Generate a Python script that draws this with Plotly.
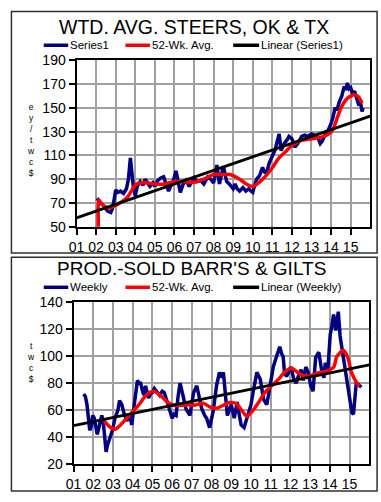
import plotly.graph_objects as go

W, H = 381, 502
FONT = "Liberation Sans, Arial, sans-serif"

# ---------------- data ----------------
tick_vals = list(range(2001, 2016))
tick_text = ["01", "02", "03", "04", "05", "06", "07", "08", "09", "10", "11", "12", "13", "14", "15"]

steers_x = [2002.05, 2002.15, 2002.3, 2002.45, 2002.6, 2002.75, 2002.85, 2003.0, 2003.1, 2003.25,
            2003.4, 2003.55, 2003.65, 2003.75, 2003.82, 2003.9, 2004.0, 2004.1, 2004.25, 2004.4,
            2004.5, 2004.6, 2004.75, 2004.9, 2005.0, 2005.15, 2005.3, 2005.45, 2005.55, 2005.7,
            2005.8, 2005.95, 2006.08, 2006.15, 2006.3, 2006.45, 2006.6, 2006.75, 2006.9, 2007.0,
            2007.15, 2007.33, 2007.5, 2007.7, 2007.85, 2008.0, 2008.1, 2008.17, 2008.3, 2008.42,
            2008.5, 2008.6, 2008.67, 2008.8, 2009.0, 2009.1, 2009.2, 2009.33, 2009.5, 2009.65,
            2009.8, 2009.92, 2010.0, 2010.1, 2010.2, 2010.35, 2010.5, 2010.6, 2010.7, 2010.85,
            2011.0, 2011.15, 2011.25, 2011.35, 2011.45, 2011.6, 2011.75, 2011.85, 2012.0, 2012.15,
            2012.3, 2012.5, 2012.65, 2012.8, 2013.0, 2013.15, 2013.3, 2013.45, 2013.55, 2013.7,
            2013.85, 2014.0, 2014.1, 2014.2, 2014.3, 2014.42, 2014.55, 2014.67, 2014.75, 2014.83,
            2014.92, 2015.0, 2015.1, 2015.2, 2015.33, 2015.42, 2015.5, 2015.58, 2015.63]
steers_wk = [74, 72, 68, 65, 63, 62, 66, 81, 79, 80,
             78, 82, 90, 108, 95, 84, 76, 84, 88, 85,
             90, 88, 84, 87, 84, 89, 91, 92, 87, 80,
             84, 89, 97, 90, 79, 86, 89, 84, 88, 91,
             88, 89, 86, 92, 90, 87, 95, 102, 86, 95,
             101, 93, 88, 86, 82, 86, 82, 80, 83, 80,
             82, 80, 79, 85, 90, 93, 100, 96, 95, 104,
             109, 115, 122, 128, 114, 120, 123, 126, 124, 117,
             120, 126, 127, 126, 128, 127, 126, 120, 122, 128,
             131, 137, 142, 150, 148, 155, 160, 168, 165, 171,
             166, 167, 162, 164, 158, 152, 155, 147, 150]

steers_avg_x = [2002.13, 2002.14, 2002.3, 2002.6, 2003.0, 2003.3, 2003.6, 2003.8, 2004.0, 2004.3,
                2004.6, 2005.0, 2005.5, 2006.0, 2006.5, 2007.0, 2007.5, 2008.0, 2008.5, 2008.83,
                2009.33, 2009.67, 2010.0, 2010.33, 2010.67, 2011.0, 2011.33, 2011.67, 2012.0, 2012.5,
                2013.0, 2013.5, 2014.0, 2014.17, 2014.5, 2014.83, 2015.17, 2015.42, 2015.58]
steers_avg = [40, 72.5, 69, 66, 68, 71, 75, 80, 85, 87,
              87, 86, 86, 88, 88, 87.4, 90, 94, 94, 94,
              90, 86, 84, 87.4, 92.8, 99.6, 107.7, 113, 118.5, 122.6,
              124, 125.4, 129.4, 134.8, 149.8, 158, 161, 159, 154]

trend_x = [2001, 2016]
steers_trend = [57.5, 143]

barrows_x = [2001.51, 2001.6, 2001.68, 2001.75, 2001.82, 2001.9, 2001.97, 2002.05, 2002.1, 2002.2,
             2002.3, 2002.43, 2002.5, 2002.58, 2002.65, 2002.72, 2002.8, 2002.9, 2002.97, 2003.1,
             2003.25, 2003.33, 2003.45, 2003.55, 2003.7, 2003.85, 2003.95, 2004.07, 2004.17, 2004.24,
             2004.32, 2004.4, 2004.5, 2004.57, 2004.65, 2004.8, 2004.9, 2005.0, 2005.1, 2005.25,
             2005.36, 2005.5, 2005.6, 2005.75, 2005.85, 2006.0, 2006.1, 2006.2, 2006.3, 2006.4,
             2006.55, 2006.7, 2006.9, 2007.09, 2007.25, 2007.4, 2007.5, 2007.65, 2007.75, 2007.9,
             2008.08, 2008.18, 2008.25, 2008.4, 2008.5, 2008.6, 2008.68, 2008.8, 2008.9, 2009.0,
             2009.15, 2009.3, 2009.4, 2009.5, 2009.65, 2009.8, 2009.9, 2010.0, 2010.14, 2010.3,
             2010.4, 2010.47, 2010.64, 2010.8, 2010.97, 2011.13, 2011.3, 2011.46, 2011.55, 2011.63,
             2011.7, 2011.8, 2011.9, 2012.04, 2012.15, 2012.29, 2012.4, 2012.54, 2012.65, 2012.78,
             2012.9, 2013.03, 2013.15, 2013.28, 2013.44, 2013.52, 2013.6, 2013.7, 2013.77, 2013.9,
             2014.02, 2014.1, 2014.19, 2014.3, 2014.43, 2014.52, 2014.6, 2014.68, 2014.76, 2014.85,
             2014.95, 2015.05, 2015.12, 2015.2, 2015.25, 2015.34, 2015.45, 2015.5, 2015.6]
barrows_wk = [72, 70, 64, 55, 45, 48, 56, 54, 50, 42,
              48, 56, 52, 40, 29, 34, 37, 42, 45, 54,
              60, 67, 64, 58, 52, 56, 49, 63, 72, 82,
              80, 80, 74, 71, 78, 69, 72, 73, 76, 73,
              71, 74, 73, 66, 61, 54, 57, 56, 70, 80,
              71, 61, 56, 73, 78, 66, 61, 56, 54, 47,
              59, 70, 78, 88, 84, 88, 73, 56, 60, 64,
              54, 66, 57, 49, 47, 54, 58, 64, 76, 88,
              85, 83, 68, 64, 78, 92, 100, 107, 102, 100,
              88, 85, 88, 92, 84, 80, 85, 90, 82, 92,
              88, 78, 74, 99, 103, 96, 88, 84, 95, 90,
              116, 122, 131, 119, 133, 115, 107, 98, 92, 82,
              71, 62, 58, 57, 68, 80, 79, 78, 77]

barrows_avg_x = [2002.56, 2002.8, 2003.1, 2003.4, 2003.7, 2004.0, 2004.3, 2004.6, 2004.85, 2005.1,
                 2005.4, 2005.75, 2006.1, 2006.5, 2006.8, 2007.09, 2007.6, 2007.9, 2008.25, 2008.6,
                 2008.9, 2009.24, 2009.57, 2009.8, 2010.06, 2010.4, 2010.7, 2011.05, 2011.4, 2011.7,
                 2012.04, 2012.5, 2012.9, 2013.4, 2013.85, 2014.2, 2014.35, 2014.67, 2014.9, 2015.1,
                 2015.4, 2015.5]
barrows_avg = [52, 48, 45.7, 49.3, 54, 59, 63.7, 69.6, 73, 73.7,
               71, 66, 63.6, 63.6, 64, 63.6, 65, 62.4, 61.3, 63.6,
               65.6, 65, 59, 55.3, 59, 66, 73, 78, 83, 88,
               91.2, 86.5, 85, 87.6, 89, 92, 99.6, 104.5, 99.6, 88,
               79.5, 78]

barrows_trend = [48.5, 93.5]

# ---------------- figure ----------------
BLUE = "#000080"
RED = "#ff0000"
BLACK = "#000000"

def px_x(p):
    return p / W

def px_y(p):
    return 1 - p / H

fig = go.Figure()

fig.add_trace(go.Scatter(x=steers_x, y=steers_wk, mode="lines", name="Series1",
                         line=dict(color=BLUE, width=3.5), xaxis="x", yaxis="y"))
fig.add_trace(go.Scatter(x=steers_avg_x, y=steers_avg, mode="lines", name="52-Wk. Avg.",
                         line=dict(color=RED, width=3.5, shape="spline", smoothing=0.6), xaxis="x", yaxis="y"))
fig.add_trace(go.Scatter(x=trend_x, y=steers_trend, mode="lines", name="Linear (Series1)",
                         line=dict(color=BLACK, width=2.8), xaxis="x", yaxis="y"))

fig.add_trace(go.Scatter(x=barrows_x, y=barrows_wk, mode="lines", name="Weekly",
                         line=dict(color=BLUE, width=3.5), xaxis="x2", yaxis="y2"))
fig.add_trace(go.Scatter(x=barrows_avg_x, y=barrows_avg, mode="lines", name="52-Wk. Avg.",
                         line=dict(color=RED, width=3.5, shape="spline", smoothing=0.6), xaxis="x2", yaxis="y2"))
fig.add_trace(go.Scatter(x=trend_x, y=barrows_trend, mode="lines", name="Linear (Weekly)",
                         line=dict(color=BLACK, width=2.8), xaxis="x2", yaxis="y2"))

axis_common = dict(showline=True, linecolor=BLACK, linewidth=2, mirror=True,
                   showgrid=True, gridcolor="#a0a0a0", gridwidth=1.5,
                   ticks="outside", ticklen=6, tickwidth=1.5, tickcolor=BLACK,
                   zeroline=False, fixedrange=True,
                   tickfont=dict(family=FONT, size=14, color=BLACK))

fig.update_layout(
    width=W, height=H, margin=dict(l=0, r=0, t=0, b=0),
    paper_bgcolor="white", plot_bgcolor="white", showlegend=False,
    xaxis=dict(axis_common, domain=[px_x(70), px_x(370)], range=[2001, 2016],
               tickvals=tick_vals, ticktext=tick_text, anchor="y"),
    yaxis=dict(axis_common, domain=[px_y(226), px_y(54)], range=[50, 190],
               tickvals=[50, 70, 90, 110, 130, 150, 170, 190], anchor="x"),
    xaxis2=dict(axis_common, domain=[px_x(67), px_x(369)], range=[2001, 2016],
                tickvals=tick_vals, ticktext=tick_text, anchor="y2"),
    yaxis2=dict(axis_common, domain=[px_y(471), px_y(304)], range=[20, 140],
                tickvals=[20, 40, 60, 80, 100, 120, 140], anchor="x2"),
)

shapes = []
annotations = []
# panel frames
for (x0, y0, x1, y1) in [(3.5, 3.5, 377, 253), (3.5, 257.5, 377, 499)]:
    shapes.append(dict(type="rect", xref="paper", yref="paper",
                       x0=px_x(x0), x1=px_x(x1), y0=px_y(y1), y1=px_y(y0),
                       line=dict(color="#303030", width=1.5), layer="below"))

# titles
annotations.append(dict(text="WTD. AVG. STEERS, OK & TX", xref="paper", yref="paper",
                        x=px_x(190), y=px_y(20), showarrow=False, xanchor="center", yanchor="middle",
                        font=dict(family=FONT, size=19.5, color=BLACK)))
annotations.append(dict(text="PROD.-SOLD BARR'S & GILTS", xref="paper", yref="paper",
                        x=px_x(187), y=px_y(269.5), showarrow=False, xanchor="center", yanchor="middle",
                        font=dict(family=FONT, size=19, color=BLACK)))

# legends (manual)
def legend(y, labels):
    xs = [(36.5, 61.5), (120, 145), (230, 256.5)]
    cols = [BLUE, RED, BLACK]
    for (a, b), c, lab in zip(xs, cols, labels):
        shapes.append(dict(type="line", xref="paper", yref="paper",
                           x0=px_x(a), x1=px_x(b), y0=px_y(y), y1=px_y(y),
                           line=dict(color=c, width=3.5)))
        annotations.append(dict(text=lab, xref="paper", yref="paper", x=px_x(b), y=px_y(y),
                                showarrow=False, xanchor="left", yanchor="middle",
                                font=dict(family=FONT, size=11.5, color=BLACK)))

legend(38.5, ["Series1", "52-Wk. Avg.", "Linear (Series1)"])
legend(288.5, ["Weekly", "52-Wk. Avg.", "Linear (Weekly)"])

# stacked y-axis titles (one text each)
annotations.append(dict(text="e<br>y<br>/<br>t<br>w<br>c<br>$", xref="paper", yref="paper",
                        x=px_x(24), y=px_y(136), showarrow=False, xanchor="center", yanchor="middle",
                        align="center", font=dict(family=FONT, size=8.5, color=BLACK)))
annotations.append(dict(text="t<br>w<br>c<br>$", xref="paper", yref="paper",
                        x=px_x(24), y=px_y(366), showarrow=False, xanchor="center", yanchor="middle",
                        align="center", font=dict(family=FONT, size=8.5, color=BLACK)))

fig.update_layout(shapes=shapes, annotations=annotations)

fig.write_html("out.html", config={"displayModeBar": False},
               post_script="document.body.style.margin='0';document.body.style.padding='0';")
